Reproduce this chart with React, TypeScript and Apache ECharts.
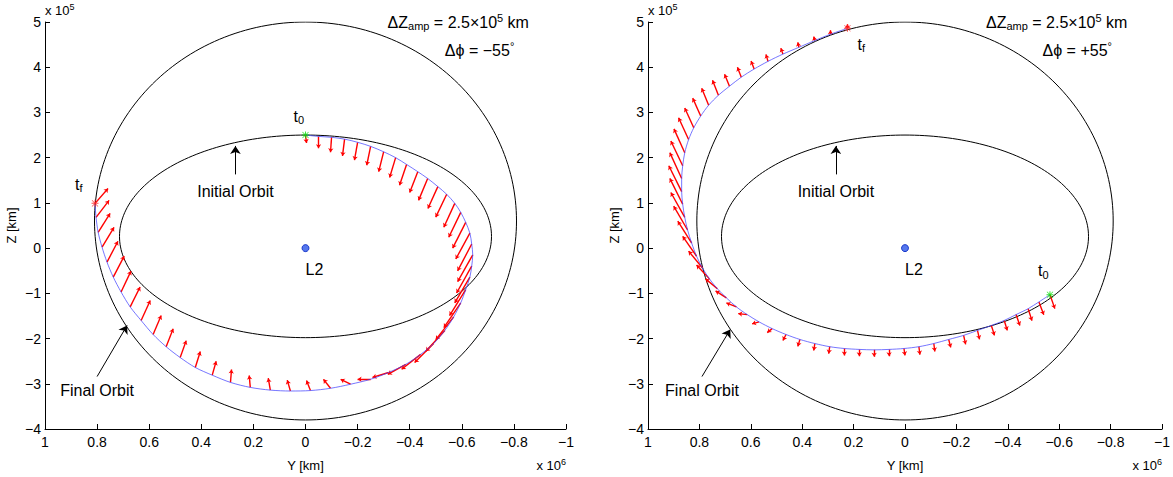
import React, { useEffect, useRef } from "react";
import * as echarts from "echarts";

// Axis ranges (Y in units of 1e6 km, Z in units of 1e5 km)
const Y_MIN = -1;
const Y_MAX = 1;
const Y_STEP = 0.2;
const Z_MIN = -4;
const Z_MAX = 5;
const Z_STEP = 1;

// Orbit shapes (centre and half-axes)
const initialOrbit = { cy: 0, cz: 0.26, ay: 0.714, bz: 2.24 };
const finalOrbit = { cy: 0, cz: 0.6, ay: 0.81, bz: 4.4 };

// Left panel (Δφ = −55°) transfer trajectory
const leftTrajY = [0, -0.05, -0.1, -0.15, -0.2, -0.25, -0.3, -0.346, -0.388, -0.431, -0.469, -0.508, -0.542, -0.573, -0.596, -0.615, -0.631, -0.638, -0.642, -0.638, -0.631, -0.615, -0.596, -0.569, -0.535, -0.492, -0.442, -0.385, -0.319, -0.25, -0.173, -0.096, -0.019, 0.058, 0.135, 0.212, 0.288, 0.358, 0.423, 0.481, 0.535, 0.585, 0.631, 0.673, 0.708, 0.738, 0.762, 0.781, 0.796, 0.804, 0.808];
const leftTrajZ = [2.5, 2.47, 2.45, 2.41, 2.34, 2.25, 2.13, 2.0, 1.85, 1.69, 1.54, 1.36, 1.19, 0.99, 0.79, 0.57, 0.33, 0.09, -0.15, -0.4, -0.64, -0.92, -1.21, -1.52, -1.82, -2.11, -2.35, -2.57, -2.75, -2.9, -3.01, -3.1, -3.15, -3.16, -3.14, -3.08, -2.97, -2.81, -2.64, -2.42, -2.18, -1.91, -1.6, -1.3, -0.97, -0.64, -0.31, 0.02, 0.35, 0.68, 0.99];
const leftThrustDY = [-0.004, 0, 0.004, 0.008, 0.012, 0.015, 0.019, 0.023, 0.027, 0.031, 0.035, 0.038, 0.042, 0.042, 0.046, 0.05, 0.054, 0.054, 0.058, 0.058, 0.058, 0.062, 0.065, 0.069, 0.073, 0.073, 0.073, 0.069, 0.062, 0.05, 0.038, 0.027, 0.015, 0.012, 0.008, 0.004, -0.004, -0.015, -0.019, -0.023, -0.027, -0.031, -0.035, -0.038, -0.038, -0.042, -0.042, -0.046, -0.046, -0.05, -0.05];
const leftThrustDZ = [-0.176, -0.264, -0.33, -0.374, -0.396, -0.418, -0.44, -0.44, -0.462, -0.462, -0.484, -0.484, -0.505, -0.527, -0.549, -0.571, -0.571, -0.593, -0.593, -0.593, -0.571, -0.571, -0.549, -0.505, -0.462, -0.418, -0.33, -0.22, -0.11, 0, 0.11, 0.198, 0.22, 0.242, 0.264, 0.264, 0.286, 0.308, 0.352, 0.374, 0.396, 0.418, 0.44, 0.44, 0.462, 0.462, 0.462, 0.44, 0.418, 0.374, 0.33];

// Right panel (Δφ = +55°) transfer trajectory
const rightTrajY = [-0.564, -0.521, -0.479, -0.432, -0.386, -0.336, -0.282, -0.228, -0.17, -0.112, -0.054, 0.004, 0.062, 0.12, 0.178, 0.236, 0.293, 0.351, 0.409, 0.463, 0.517, 0.568, 0.614, 0.656, 0.695, 0.73, 0.761, 0.788, 0.811, 0.83, 0.846, 0.857, 0.865, 0.869, 0.869, 0.865, 0.857, 0.842, 0.822, 0.795, 0.764, 0.726, 0.683, 0.637, 0.587, 0.533, 0.475, 0.413, 0.351, 0.29, 0.224];
const rightTrajZ = [-1.03, -1.19, -1.34, -1.47, -1.6, -1.71, -1.82, -1.93, -2.02, -2.11, -2.18, -2.22, -2.24, -2.25, -2.24, -2.22, -2.18, -2.11, -2.02, -1.91, -1.78, -1.63, -1.47, -1.3, -1.1, -0.9, -0.68, -0.44, -0.18, 0.11, 0.4, 0.68, 0.97, 1.25, 1.54, 1.82, 2.11, 2.4, 2.66, 2.92, 3.16, 3.38, 3.58, 3.78, 3.96, 4.13, 4.29, 4.44, 4.59, 4.73, 4.86];
const rightThrustDY = [-0.019, -0.019, -0.015, -0.015, -0.012, -0.012, -0.008, -0.008, -0.008, -0.004, -0.004, -0.004, 0, 0, 0, 0, 0.004, 0.004, 0.008, 0.012, 0.019, 0.027, 0.035, 0.039, 0.042, 0.046, 0.05, 0.054, 0.054, 0.054, 0.054, 0.054, 0.05, 0.05, 0.046, 0.046, 0.042, 0.039, 0.035, 0.031, 0.027, 0.023, 0.019, 0.015, 0.012, 0.008, 0.008, 0.004, 0.004, 0, 0];
const rightThrustDZ = [-0.308, -0.286, -0.264, -0.242, -0.22, -0.22, -0.198, -0.198, -0.176, -0.176, -0.176, -0.154, -0.154, -0.154, -0.154, -0.154, -0.154, -0.154, -0.154, -0.132, -0.088, -0.044, 0.022, 0.088, 0.154, 0.22, 0.308, 0.374, 0.44, 0.484, 0.527, 0.549, 0.571, 0.571, 0.571, 0.549, 0.527, 0.484, 0.44, 0.396, 0.374, 0.33, 0.264, 0.22, 0.176, 0.154, 0.132, 0.11, 0.088, 0.088, 0.088];

// Annotation anchors (data coordinates)
const l2Point = [0, 0];
const initialArrowFrom = [0.269, 1.63];
const initialArrowTo = [0.269, 2.26];
const initialLabelAt = [0.269, 1.25];
const leftFinalArrowFrom = [0.8, -2.84];
const leftFinalArrowTo = [0.685, -1.71];
const leftFinalLabelAt = [0.8, -3.14];
const rightFinalArrowFrom = [0.79, -2.84];
const rightFinalArrowTo = [0.68, -1.8];
const rightFinalLabelAt = [0.79, -3.14];
const ampTextAt = [-0.315, 4.99];
const phaseTextAt = [-0.535, 4.37];
const phaseLabels = ["−55", "+55"];

const FONT = '"Liberation Sans", Arial, Helvetica, sans-serif';
const STAR =
  "path://M0 8.6H20V11.4H0Z M8.6 0H11.4V20H8.6Z M2 0.6L19.4 18L18 19.4L0.6 2Z M18 0.6L19.4 2L2 19.4L0.6 18Z";

function ellipse(o: { cy: number; cz: number; ay: number; bz: number }) {
  const pts: number[][] = [];
  const n = 240;
  for (let i = 0; i <= n; i++) {
    const t = (i / n) * Math.PI * 2;
    pts.push([o.cy + o.ay * Math.sin(t), o.cz + o.bz * Math.cos(t)]);
  }
  return pts;
}

const fmt = (v: number) => {
  const r = parseFloat(v.toFixed(1));
  return (r === 0 ? "0" : String(r)).replace("-", "−");
};

export default function App() {
  const ref = useRef<HTMLDivElement>(null);
  useEffect(() => {
    if (!ref.current) return;
    const chart = echarts.init(ref.current, null, { renderer: "svg" });
    const panels = [
      { ty: leftTrajY, tz: leftTrajZ, dy: leftThrustDY, dz: leftThrustDZ, fFrom: leftFinalArrowFrom, fTo: leftFinalArrowTo, fLab: leftFinalLabelAt },
      { ty: rightTrajY, tz: rightTrajZ, dy: rightThrustDY, dz: rightThrustDZ, fFrom: rightFinalArrowFrom, fTo: rightFinalArrowTo, fLab: rightFinalLabelAt },
    ];
    const grids = [
      { left: 45, top: 22, width: 521, height: 409 },
      { left: 648, top: 22, width: 519, height: 409 },
    ];
    const xAxes = grids.map((_, i) => ({
      type: "value",
      gridIndex: i,
      min: Y_MIN,
      max: Y_MAX,
      interval: Y_STEP,
      inverse: true,
      name: "Y [km]",
      nameLocation: "middle",
      nameGap: 30,
      nameTextStyle: { color: "#000", fontFamily: FONT, fontSize: 13 },
      axisLine: { show: true, onZero: false, lineStyle: { color: "#000", width: 1 } },
      axisTick: { show: true, inside: true, length: 5, lineStyle: { color: "#000" } },
      axisLabel: { color: "#000", fontFamily: FONT, fontSize: 14, margin: 6, formatter: fmt },
      splitLine: { show: false },
    }));
    const yAxes = grids.map((_, i) => ({
      type: "value",
      gridIndex: i,
      min: Z_MIN,
      max: Z_MAX,
      interval: Z_STEP,
      name: "Z [km]",
      nameLocation: "middle",
      nameGap: 27,
      nameRotate: 90,
      nameTextStyle: { color: "#000", fontFamily: FONT, fontSize: 13 },
      axisLine: { show: true, onZero: false, lineStyle: { color: "#000", width: 1 } },
      axisTick: { show: true, inside: true, length: 5, lineStyle: { color: "#000" } },
      axisLabel: { color: "#000", fontFamily: FONT, fontSize: 14, margin: 4, formatter: fmt },
      splitLine: { show: false },
    }));

    const series: any[] = [];
    panels.forEach((p, i) => {
      const ax = { xAxisIndex: i, yAxisIndex: i };
      [initialOrbit, finalOrbit].forEach((o) =>
        series.push({
          type: "line",
          ...ax,
          data: ellipse(o),
          showSymbol: false,
          smooth: false,
          lineStyle: { color: "#000", width: 1 },
          silent: true,
          z: 2,
        })
      );
      series.push({
        type: "lines",
        coordinateSystem: "cartesian2d",
        ...ax,
        data: p.ty.map((y, k) => ({
          coords: [
            [y, p.tz[k]],
            [y + p.dy[k], p.tz[k] + p.dz[k]],
          ],
        })),
        symbol: ["none", "arrow"],
        symbolSize: [3, 4],
        lineStyle: { color: "#ff0000", width: 1.4, opacity: 1, curveness: 0 },
        z: 3,
      });
      series.push({
        type: "line",
        ...ax,
        data: p.ty.map((y, k) => [y, p.tz[k]]),
        showSymbol: false,
        smooth: 0.3,
        lineStyle: { color: "#4040ff", width: 0.8, opacity: 0.9 },
        z: 4,
      });
      // Initial / Final orbit pointer arrows
      series.push({
        type: "lines",
        coordinateSystem: "cartesian2d",
        ...ax,
        data: [{ coords: [initialArrowFrom, initialArrowTo] }, { coords: [p.fFrom, p.fTo] }],
        symbol: ["none", "arrow"],
        symbolSize: [5, 8],
        lineStyle: { color: "#000", width: 1, opacity: 1 },
        z: 5,
      });
      // start / end markers
      series.push({
        type: "scatter",
        ...ax,
        data: [[p.ty[0], p.tz[0]]],
        symbol: STAR,
        symbolSize: 7,
        itemStyle: { color: "#00e000" },
        z: 6,
      });
      series.push({
        type: "scatter",
        ...ax,
        data: [[p.ty[p.ty.length - 1], p.tz[p.tz.length - 1]]],
        symbol: STAR,
        symbolSize: 7,
        itemStyle: { color: "#ff2020" },
        z: 6,
      });
      series.push({
        type: "scatter",
        ...ax,
        data: [l2Point],
        symbol: "circle",
        symbolSize: 7,
        itemStyle: { color: "#2a55e8", borderColor: "#0020c0", borderWidth: 1 },
        z: 6,
      });
    });

    chart.setOption({
      animation: false,
      backgroundColor: "#fff",
      grid: grids,
      xAxis: xAxes,
      yAxis: yAxes,
      series,
    });

    const px = (i: number, pt: number[]) =>
      chart.convertToPixel({ xAxisIndex: i, yAxisIndex: i } as any, pt) as number[];
    const rich = {
      a: { fontSize: 16, lineHeight: 19, fontFamily: FONT, color: "#000" },
      s: { fontSize: 11, lineHeight: 10, fontFamily: FONT, verticalAlign: "bottom", color: "#000" },
      p: { fontSize: 11, lineHeight: 10, fontFamily: FONT, verticalAlign: "top", color: "#000" },
      t: { fontSize: 13, lineHeight: 16, fontFamily: FONT, color: "#000" },
      ts: { fontSize: 9, lineHeight: 8, fontFamily: FONT, verticalAlign: "top", color: "#000" },
    };
    const txt = (x: number, y: number, text: string, align = "left") => ({
      type: "text",
      x,
      y,
      silent: true,
      style: { text, rich, x: 0, y: 0, align, verticalAlign: "middle", fill: "#000", font: `16px ${FONT}` },
      z: 10,
    });
    const graphic: any[] = [];
    panels.forEach((p, i) => {
      const s0 = px(i, [p.ty[0], p.tz[0]]);
      const sf = px(i, [p.ty[p.ty.length - 1], p.tz[p.tz.length - 1]]);
      const l2 = px(i, l2Point);
      const init = px(i, initialLabelAt);
      const fin = px(i, p.fLab);
      const amp = px(i, ampTextAt);
      const ph = px(i, phaseTextAt);
      const origin = px(i, [Y_MAX, Z_MAX]);
      const corner = px(i, [Y_MIN, Z_MIN]);
      if (i === 0) {
        graphic.push(txt(s0[0] - 12, s0[1] - 19, "{a|t}{s|0}"));
        graphic.push(txt(sf[0] - 20, sf[1] - 19, "{a|t}{s|f}"));
      } else {
        graphic.push(txt(s0[0] - 12, s0[1] - 24, "{a|t}{s|0}"));
        graphic.push(txt(sf[0] + 10, sf[1] + 16, "{a|t}{s|f}"));
      }
      graphic.push(txt(l2[0], l2[1] + 21, "{a|L2}"));
      graphic.push(txt(init[0], init[1], "{a|Initial Orbit}", "center"));
      graphic.push(txt(fin[0], fin[1], "{a|Final Orbit}", "center"));
      graphic.push(txt(amp[0], amp[1], "{a|ΔZ}{s|amp}{a| = 2.5×10}{p|5}{a| km}"));
      graphic.push(txt(ph[0], ph[1], `{a|Δϕ = ${phaseLabels[i]}}{p|°}`));
      graphic.push(txt(origin[0], origin[1] - 12, "{t|x 10}{ts|5}"));
      graphic.push(txt(corner[0], corner[1] + 36, "{t|x 10}{ts|6}", "right"));
    });
    chart.setOption({ graphic });

    return () => chart.dispose();
  }, []);
  return (
    <div
      ref={ref}
      style={{ position: "fixed", left: 0, top: 0, width: 1173, height: 477, background: "#fff" }}
    />
  );
}
